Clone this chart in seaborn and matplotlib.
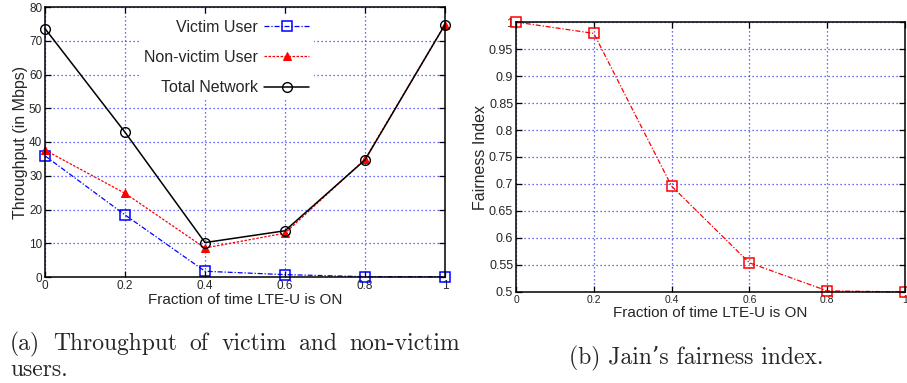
import matplotlib
matplotlib.use("Agg")
import matplotlib.pyplot as plt
import seaborn as sns
import pandas as pd

# ---- data ----
fraction_on = [0, 0.2, 0.4, 0.6, 0.8, 1.0]
victim_user = [35.9, 18.4, 1.7, 0.7, 0.1, 0.1]
non_victim_user = [37.6, 24.8, 8.6, 13.0, 34.9, 74.8]
total_network = [73.6, 42.9, 10.2, 13.7, 34.7, 74.8]
fairness_index = [1.0, 0.979, 0.696, 0.554, 0.502, 0.500]

x_ticks = [0, 0.2, 0.4, 0.6, 0.8, 1.0]
x_tick_labels = ["0", "0.2", "0.4", "0.6", "0.8", "1"]
y1_ticks = [0, 10, 20, 30, 40, 50, 60, 70, 80]
y2_ticks = [0.5, 0.55, 0.6, 0.65, 0.7, 0.75, 0.8, 0.85, 0.9, 0.95, 1.0]
y2_tick_labels = ["0.5", "0.55", "0.6", "0.65", "0.7", "0.75", "0.8", "0.85", "0.9", "0.95", "1"]

caption_a_line1 = ["(a)", "Throughput", "of", "victim", "and", "non-victim"]
caption_a_line2 = "users."
caption_b = "(b) Jain\u2019s fairness index."

sns.set_style("ticks")
plt.rcParams['font.family'] = ['Liberation Sans', 'DejaVu Sans']

df = pd.DataFrame({
    "x": fraction_on,
    "victim": victim_user,
    "nonvictim": non_victim_user,
    "total": total_network,
    "fair": fairness_index,
})

fig = plt.figure(figsize=(9.07, 3.83), dpi=100)
W, H = 907, 383

def px_axes(left, top, right, bottom):
    return fig.add_axes([left / W, 1 - bottom / H, (right - left) / W, (bottom - top) / H])

ax1 = px_axes(45, 7, 445, 277)
ax2 = px_axes(516, 22, 905, 292)

grid_kw = dict(color="#3a3aff", linestyle=(0, (1, 2.2)), linewidth=0.9)

def style_axes(ax):
    ax.grid(True, **grid_kw)
    ax.set_axisbelow(True)
    ax.tick_params(direction="in", length=4, width=0.9, top=True, right=True,
                   labelsize=8.5, pad=2, color="black")
    for s in ax.spines.values():
        s.set_linewidth(1.1)
        s.set_color("black")
        s.set_zorder(5)

# ---- left panel ----
sns.lineplot(data=df, x="x", y="victim", ax=ax1, color="#0000ff", linestyle=(0, (4, 1.5, 1, 1.5)),
             linewidth=0.9, marker="s", markersize=7, markerfacecolor="none",
             markeredgecolor="#0000ff", markeredgewidth=1.1, label="Victim User", clip_on=False, zorder=3)
sns.lineplot(data=df, x="x", y="nonvictim", ax=ax1, color="#ff0000", linestyle=(0, (2, 1.2)),
             linewidth=0.9, marker="^", markersize=6, markerfacecolor="#ff0000",
             markeredgecolor="#ff0000", label="Non-victim User", clip_on=False, zorder=3)
sns.lineplot(data=df, x="x", y="total", ax=ax1, color="black", linestyle="-",
             linewidth=1.1, marker="o", markersize=7, markerfacecolor="none",
             markeredgecolor="black", markeredgewidth=1.0, label="Total Network", clip_on=False, zorder=4)
ax1.set_xlim(0, 1)
ax1.set_ylim(0, 80)
ax1.set_xticks(x_ticks)
ax1.set_xticklabels(x_tick_labels)
ax1.set_yticks(y1_ticks)
ax1.set_xlabel("Fraction of time LTE-U is ON", fontsize=11, labelpad=1)
ax1.set_ylabel("Throughput (in Mbps)", fontsize=11.5, labelpad=1)
style_axes(ax1)
leg = ax1.legend(loc="upper right", bbox_to_anchor=((314 - 45) / 400, (277 - 15) / 270),
                 markerfirst=False, fontsize=11.5, handlelength=2.8, labelspacing=0.95,
                 frameon=True, fancybox=False, borderpad=0.3, handletextpad=0.4,
                 borderaxespad=0)
leg.get_frame().set_facecolor("white")
leg.get_frame().set_edgecolor("none")
leg.get_frame().set_alpha(1)
leg._legend_box.align = "right"

# ---- right panel ----
sns.lineplot(data=df, x="x", y="fair", ax=ax2, color="#ff0000", linestyle=(0, (4, 1.5, 1, 1.5)),
             linewidth=0.9, marker="s", markersize=7, markerfacecolor="none",
             markeredgecolor="#ff0000", markeredgewidth=1.1, clip_on=False, zorder=3)
ax2.set_xlim(0, 1)
ax2.set_ylim(0.4999, 1.0001)
ax2.set_xticks(x_ticks)
ax2.set_xticklabels(x_tick_labels)
ax2.set_yticks(y2_ticks)
ax2.set_yticklabels(y2_tick_labels)
ax2.set_xlabel("Fraction of time LTE-U is ON", fontsize=11, labelpad=1)
ax2.set_ylabel("Fairness Index", fontsize=11.5, labelpad=1)
style_axes(ax2)
ax2.tick_params(axis="x", labelsize=7.5)
ax2.tick_params(axis="y", labelsize=9)

# ---- captions ----
cap_font = ['cmr10', 'DejaVu Serif']
cap_size = 17
renderer = fig.canvas.get_renderer()

# justified first line of caption (a): from x=10 to x=460 px, baseline y=350 px
words = []
for w in caption_a_line1:
    t = fig.text(0, 1 - 350 / H, w, fontsize=cap_size, family=cap_font, ha="left", va="baseline")
    words.append(t)
widths = [t.get_window_extent(renderer).width for t in words]
x_left, x_right = 10, 460
gap = (x_right - x_left - sum(widths)) / (len(words) - 1)
xpos = x_left
for t, wd in zip(words, widths):
    t.set_x(xpos / W)
    xpos += wd + gap

fig.text(10 / W, 1 - 376 / H, caption_a_line2, fontsize=cap_size, family=cap_font,
         ha="left", va="baseline")
fig.text(696 / W, 1 - 364 / H, caption_b, fontsize=cap_size,
         family=cap_font, ha="center", va="baseline")

fig.savefig("out.png", dpi=100)
